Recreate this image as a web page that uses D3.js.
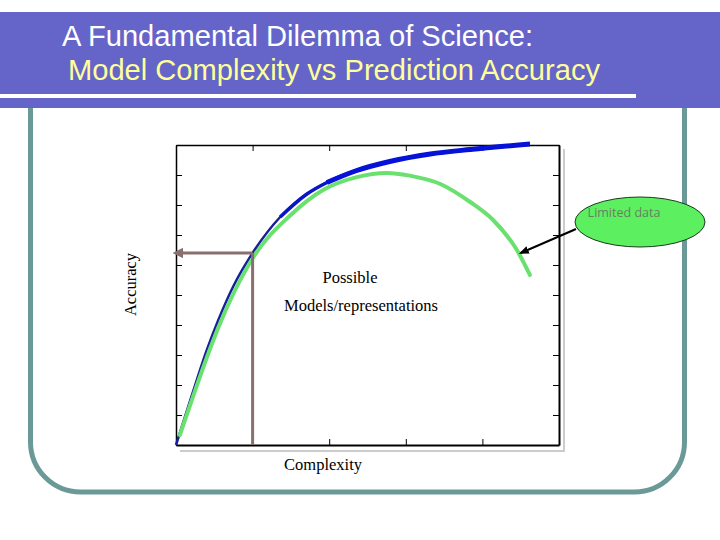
<!DOCTYPE html>
<html>
<head>
<meta charset="utf-8">
<script src="https://cdn.jsdelivr.net/npm/d3@7"></script>
<style>
  body { margin: 0; background: #fff; }
  svg { display: block; }
</style>
</head>
<body>
<div id="chart"></div>
<script>
// data (complexity 0-5, accuracy 0-10)
var unlimitedX = [0, 0.2, 0.4, 0.55, 0.75, 1.0, 1.36, 1.7, 1.97, 2.36, 2.79, 3.32, 3.84, 4.62];
var unlimitedY = [0, 1.6, 3.15, 4.15, 5.3, 6.4, 7.6, 8.35, 8.75, 9.15, 9.45, 9.7, 9.85, 10.03];
var limitedX = [0.05, 0.2, 0.4, 0.55, 0.75, 1.02, 1.49, 1.92, 2.36, 2.75, 3.05, 3.45, 3.84, 4.14, 4.45, 4.62];
var limitedY = [0.33, 1.45, 2.9, 3.9, 5.05, 6.3, 7.65, 8.5, 8.93, 9.07, 8.98, 8.7, 8.1, 7.5, 6.5, 5.67];
var chosen = {x: 1.0, y: 6.4};
var xTicks = [0, 1, 2, 3, 4, 5];
var yTicks = [0, 1, 2, 3, 4, 5, 6, 7, 8, 9, 10];

var svgWidth = 720;
var svgHeight = 540;

var margin = {top: 145, right: 161, bottom: 95, left: 176};
var width = svgWidth - margin.left - margin.right;
var height = svgHeight - margin.top - margin.bottom;

var svg = d3.select("#chart")
  .append("svg")
  .attr("width", svgWidth)
  .attr("height", svgHeight);

// slide frame
svg.append("rect")
  .attr("x", 30.5)
  .attr("y", 40)
  .attr("width", 654)
  .attr("height", 452)
  .attr("rx", 50)
  .attr("fill", "none")
  .attr("stroke", "#6b9997")
  .attr("stroke-width", 5);

// title banner
svg.append("rect")
  .attr("x", 0).attr("y", 12)
  .attr("width", 720).attr("height", 96)
  .attr("fill", "#6565c9");
svg.append("rect")
  .attr("x", 0).attr("y", 94)
  .attr("width", 636).attr("height", 4)
  .attr("fill", "#fff");

svg.append("text")
  .attr("x", 62).attr("y", 46)
  .attr("font-family", "Liberation Sans, Arial, sans-serif")
  .attr("font-size", 30)
  .attr("textLength", 471)
  .attr("lengthAdjust", "spacingAndGlyphs")
  .attr("fill", "#ffffff")
  .text("A Fundamental Dilemma of Science:");
svg.append("text")
  .attr("x", 68).attr("y", 80)
  .attr("font-family", "Liberation Sans, Arial, sans-serif")
  .attr("font-size", 30)
  .attr("textLength", 532)
  .attr("lengthAdjust", "spacingAndGlyphs")
  .attr("fill", "#ffff99")
  .text("Model Complexity vs Prediction Accuracy");

var chartGroup = svg.append("g")
  .attr("transform", `translate(${margin.left}, ${margin.top})`);

var xScale = d3.scaleLinear().domain([0, 5]).range([0, width]);
var yScale = d3.scaleLinear().domain([0, 10]).range([height, 0]);

// shadow of the plot box
chartGroup.append("path")
  .attr("d", `M${width + 5},4 V${height + 6} H4`)
  .attr("fill", "none")
  .attr("stroke", "#cccccc")
  .attr("stroke-width", 2);

chartGroup.append("rect")
  .attr("width", width).attr("height", height)
  .attr("fill", "#fff");

// inward ticks on all four sides
var bottomAxis = d3.axisTop(xScale).tickValues(xTicks).tickSizeInner(6).tickSizeOuter(0).tickFormat("");
var topAxis = d3.axisBottom(xScale).tickValues(xTicks).tickSizeInner(6).tickSizeOuter(0).tickFormat("");
var leftAxis = d3.axisRight(yScale).tickValues(yTicks).tickSizeInner(6).tickSizeOuter(0).tickFormat("");
var rightAxis = d3.axisLeft(yScale).tickValues(yTicks).tickSizeInner(6).tickSizeOuter(0).tickFormat("");

chartGroup.append("g").attr("transform", `translate(0, ${height})`).call(bottomAxis)
  .call(g => g.select(".domain").attr("stroke-width", 2));
chartGroup.append("g").call(topAxis)
  .call(g => g.select(".domain").attr("stroke-width", 1.5));
chartGroup.append("g").call(leftAxis)
  .call(g => g.select(".domain").attr("stroke-width", 1.5));
chartGroup.append("g").attr("transform", `translate(${width}, 0)`).call(rightAxis)
  .call(g => g.select(".domain").attr("stroke-width", 2));

var line = d3.line()
  .x(d => xScale(d[0]))
  .y(d => yScale(d[1]))
  .curve(d3.curveMonotoneX);

var unlimited = unlimitedX.map((x, i) => [x, unlimitedY[i]]);
var limited = limitedX.map((x, i) => [x, limitedY[i]]);

// the blue curve gets thicker towards the top right
chartGroup.append("path")
  .datum(unlimited)
  .attr("d", line)
  .attr("fill", "none")
  .attr("stroke", "#15209a")
  .attr("stroke-width", 2.5);
chartGroup.append("path")
  .datum(unlimited.filter(d => d[0] >= 1.36))
  .attr("d", line)
  .attr("fill", "none")
  .attr("stroke", "#0a16c4")
  .attr("stroke-width", 3.5);
chartGroup.append("path")
  .datum(unlimited.filter(d => d[0] >= 1.97))
  .attr("d", line)
  .attr("fill", "none")
  .attr("stroke", "#0612d8")
  .attr("stroke-width", 5);

chartGroup.append("path")
  .datum(limited)
  .attr("d", line)
  .attr("fill", "none")
  .attr("stroke", "#6ae06e")
  .attr("stroke-width", 4)
  .attr("stroke-linecap", "round");

// chosen model guide lines
svg.append("defs").append("marker")
  .attr("id", "brownHead")
  .attr("viewBox", "0 0 10 10")
  .attr("refX", 2).attr("refY", 5)
  .attr("markerWidth", 3.5).attr("markerHeight", 3.5)
  .attr("orient", "auto")
  .append("path")
  .attr("d", "M0,0 L10,5 L0,10 z")
  .attr("fill", "#8a6f6f");

chartGroup.append("line")
  .attr("x1", xScale(chosen.x)).attr("y1", yScale(0))
  .attr("x2", xScale(chosen.x)).attr("y2", yScale(chosen.y))
  .attr("stroke", "#8a6f6f")
  .attr("stroke-width", 3);
chartGroup.append("line")
  .attr("x1", xScale(chosen.x)).attr("y1", yScale(chosen.y))
  .attr("x2", 5).attr("y2", yScale(chosen.y))
  .attr("stroke", "#8a6f6f")
  .attr("stroke-width", 3)
  .attr("marker-end", "url(#brownHead)");

// labels
var serif = "Liberation Serif, Times New Roman, serif";
chartGroup.append("text")
  .attr("x", xScale(1.92)).attr("y", height + 25)
  .attr("text-anchor", "middle")
  .attr("font-family", serif).attr("font-size", 16.5)
  .text("Complexity");

chartGroup.append("text")
  .attr("transform", "rotate(-90)")
  .attr("x", 0 - (yScale(5.35)))
  .attr("y", -40)
  .attr("text-anchor", "middle")
  .attr("font-family", serif).attr("font-size", 16.5)
  .text("Accuracy");

chartGroup.append("text")
  .attr("x", 174).attr("y", 138)
  .attr("text-anchor", "middle")
  .attr("font-family", serif).attr("font-size", 16.5)
  .text("Possible");
chartGroup.append("text")
  .attr("x", 185).attr("y", 166)
  .attr("text-anchor", "middle")
  .attr("font-family", serif).attr("font-size", 16.5)
  .text("Models/representations");

// "Limited data" callout
svg.append("defs").append("marker")
  .attr("id", "blackHead")
  .attr("viewBox", "0 0 10 10")
  .attr("refX", 8).attr("refY", 5)
  .attr("markerWidth", 5).attr("markerHeight", 5)
  .attr("orient", "auto")
  .append("path")
  .attr("d", "M0,1 L10,5 L0,9 z")
  .attr("fill", "#000");

svg.append("line")
  .attr("x1", 576).attr("y1", 229)
  .attr("x2", margin.left + xScale(4.5)).attr("y2", margin.top + yScale(6.4))
  .attr("stroke", "#000")
  .attr("stroke-width", 2)
  .attr("marker-end", "url(#blackHead)");

svg.append("ellipse")
  .attr("cx", 640).attr("cy", 222)
  .attr("rx", 65).attr("ry", 25)
  .attr("fill", "#5cf060")
  .attr("stroke", "#1a3a1a")
  .attr("stroke-width", 1);

svg.append("text")
  .attr("x", 624).attr("y", 217)
  .attr("text-anchor", "middle")
  .attr("font-family", "Open Sans, sans-serif")
  .attr("font-size", 12.5)
  .attr("fill", "#6a7f60")
  .text("Limited data");
</script>
</body>
</html>
